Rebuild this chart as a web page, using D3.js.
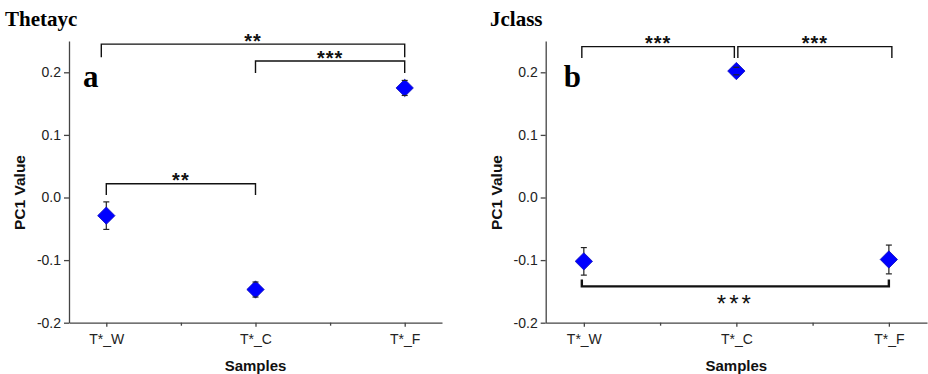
<!DOCTYPE html>
<html>
<head>
<meta charset="utf-8">
<script src="https://cdn.jsdelivr.net/npm/d3@7"></script>
<style>
  body { margin: 0; background: #fff; }
  svg { display: block; }
</style>
</head>
<body>
<div id="chart"></div>
<script>
// samples on the x axis
const samples = ["T*_W", "T*_C", "T*_F"];
const yTicks = [-0.2, -0.1, 0.0, 0.1, 0.2];

// PC1 means and error (+/-)
const thetaycMean = [-0.029, -0.147, 0.175];
const thetaycErr = [0.022, 0.012, 0.012];
const jclassMean = [-0.102, 0.202, -0.099];
const jclassErr = [0.022, 0.006, 0.023];

// significance brackets: from / to sample, bar level, leg end level
const thetaycSig = [
  { from: "T*_W", to: "T*_F", level: 0.245, leg: 0.224, label: "**", dx0: -5, dx1: 0 },
  { from: "T*_C", to: "T*_F", level: 0.218, leg: 0.199, label: "***", dx0: 0, dx1: 0 },
  { from: "T*_W", to: "T*_C", level: 0.022, leg: 0.004, label: "**", dx0: 0, dx1: 0 }
];
const jclassSig = [
  { from: "T*_W", to: "T*_C", level: 0.241, leg: 0.223, label: "***", dx0: -2, dx1: -2 },
  { from: "T*_C", to: "T*_F", level: 0.241, leg: 0.223, label: "***", dx0: 1.5, dx1: 3 },
  { from: "T*_W", to: "T*_F", level: -0.142, leg: -0.131, label: "***", dx0: -2, dx1: 0, big: true }
];

const width = 928, height = 374;
const svg = d3.select("#chart").append("svg")
  .attr("width", width)
  .attr("height", height)
  .attr("viewBox", [0, 0, width, height]);

const y = d3.scaleLinear([-0.2, 0.25], [322.7, 41]);

function drawPanel(opt) {
  const x = d3.scaleLinear([0.75, 3.25], [opt.left, opt.right]);
  const xPos = name => x(samples.indexOf(name) + 1);
  const g = svg.append("g");

  // axes
  g.append("g")
    .attr("transform", `translate(${opt.left},0)`)
    .call(d3.axisLeft(y).tickValues(yTicks).tickFormat(d => d.toFixed(1)).tickSize(5).tickSizeOuter(0).tickPadding(3));
  g.append("g")
    .attr("transform", `translate(0,${y(-0.2)})`)
    .call(d3.axisBottom(x).tickValues([1, 2, 3]).tickFormat(i => samples[i - 1]).tickSize(4).tickSizeOuter(0).tickPadding(7));
  g.append("g")
    .attr("transform", `translate(0,${y(-0.2)})`)
    .call(d3.axisBottom(x).tickValues([1.5, 2.5]).tickFormat("").tickSize(3).tickSizeOuter(0))
    .select(".domain").remove();

  g.selectAll(".domain, .tick line").attr("stroke", "#444").attr("stroke-width", 1.3);
  g.selectAll(".tick text")
    .attr("fill", "#222")
    .style("font", "14px 'Liberation Sans', Arial, sans-serif");

  // axis titles
  g.append("text")
    .attr("x", x(2)).attr("y", 371)
    .attr("text-anchor", "middle")
    .style("font", "bold 15px 'Liberation Sans', Arial, sans-serif")
    .attr("fill", "#111")
    .text("Samples");
  g.append("text")
    .attr("transform", `translate(${opt.left - 44},192.5) rotate(-90)`)
    .attr("text-anchor", "middle")
    .style("font", "bold 15.5px 'Liberation Sans', Arial, sans-serif")
    .attr("fill", "#111")
    .text("PC1 Value");

  // panel title and letter
  g.append("text")
    .attr("x", opt.titleX).attr("y", 26)
    .style("font", "bold 21px 'Liberation Serif', 'Times New Roman', serif")
    .attr("fill", "#000")
    .text(opt.title);
  g.append("text")
    .attr("x", opt.left + opt.letterDx).attr("y", 87)
    .style("font", "bold 31px 'Liberation Serif', 'Times New Roman', serif")
    .attr("fill", "#000")
    .text(opt.letter);

  // significance brackets
  const sig = g.append("g").attr("fill", "none");
  opt.sig.forEach(s => {
    const x0 = xPos(s.from) + s.dx0, x1 = xPos(s.to) + s.dx1;
    const yl = y(s.level), yg = y(s.leg);
    sig.append("path")
      .attr("d", `M${x0},${yg}V${yl}H${x1}V${yg}`)
      .attr("stroke", "#111")
      .attr("stroke-width", s.big ? 2.4 : 1.4);
    const t = g.append("text")
      .attr("x", (x0 + x1) / 2)
      .attr("text-anchor", "middle")
      .attr("fill", "#111")
      .text(s.label);
    if (s.big) {
      t.attr("y", yl + 26)
        .style("font", "24px 'Liberation Sans', Arial, sans-serif")
        .style("letter-spacing", "3px");
    } else {
      t.attr("y", yl + 3.5)
        .style("font", "bold 20px 'Liberation Sans', Arial, sans-serif")
        .style("letter-spacing", "1px");
    }
  });

  // points with error bars
  const pts = samples.map((s, i) => ({ s, m: opt.mean[i], e: opt.err[i] }));
  const pg = g.append("g");
  pg.selectAll("line.err")
    .data(pts).join("line")
    .attr("x1", d => xPos(d.s)).attr("x2", d => xPos(d.s))
    .attr("y1", d => y(d.m - d.e)).attr("y2", d => y(d.m + d.e))
    .attr("stroke", "#222").attr("stroke-width", 1.2);
  pg.selectAll("path.pt")
    .data(pts).join("path")
    .attr("d", d3.symbol(d3.symbolSquare, 150))
    .attr("transform", d => `translate(${xPos(d.s)},${y(d.m)}) rotate(45)`)
    .attr("fill", "#0000ff")
    .attr("stroke", "#1010c0")
    .attr("stroke-width", 0.8);
  ["-", "+"].forEach(sign => {
    pg.selectAll(null)
      .data(pts).join("line")
      .attr("x1", d => xPos(d.s) - 3).attr("x2", d => xPos(d.s) + 3)
      .attr("y1", d => y(sign === "+" ? d.m + d.e : d.m - d.e))
      .attr("y2", d => y(sign === "+" ? d.m + d.e : d.m - d.e))
      .attr("stroke", "#222").attr("stroke-width", 1.2);
  });
}

drawPanel({ left: 69, right: 442, title: "Thetayc", titleX: 5, letter: "a", letterDx: 14,
  mean: thetaycMean, err: thetaycErr, sig: thetaycSig });
drawPanel({ left: 545.7, right: 927, title: "Jclass", titleX: 490, letter: "b", letterDx: 18,
  mean: jclassMean, err: jclassErr, sig: jclassSig });
</script>
</body>
</html>
